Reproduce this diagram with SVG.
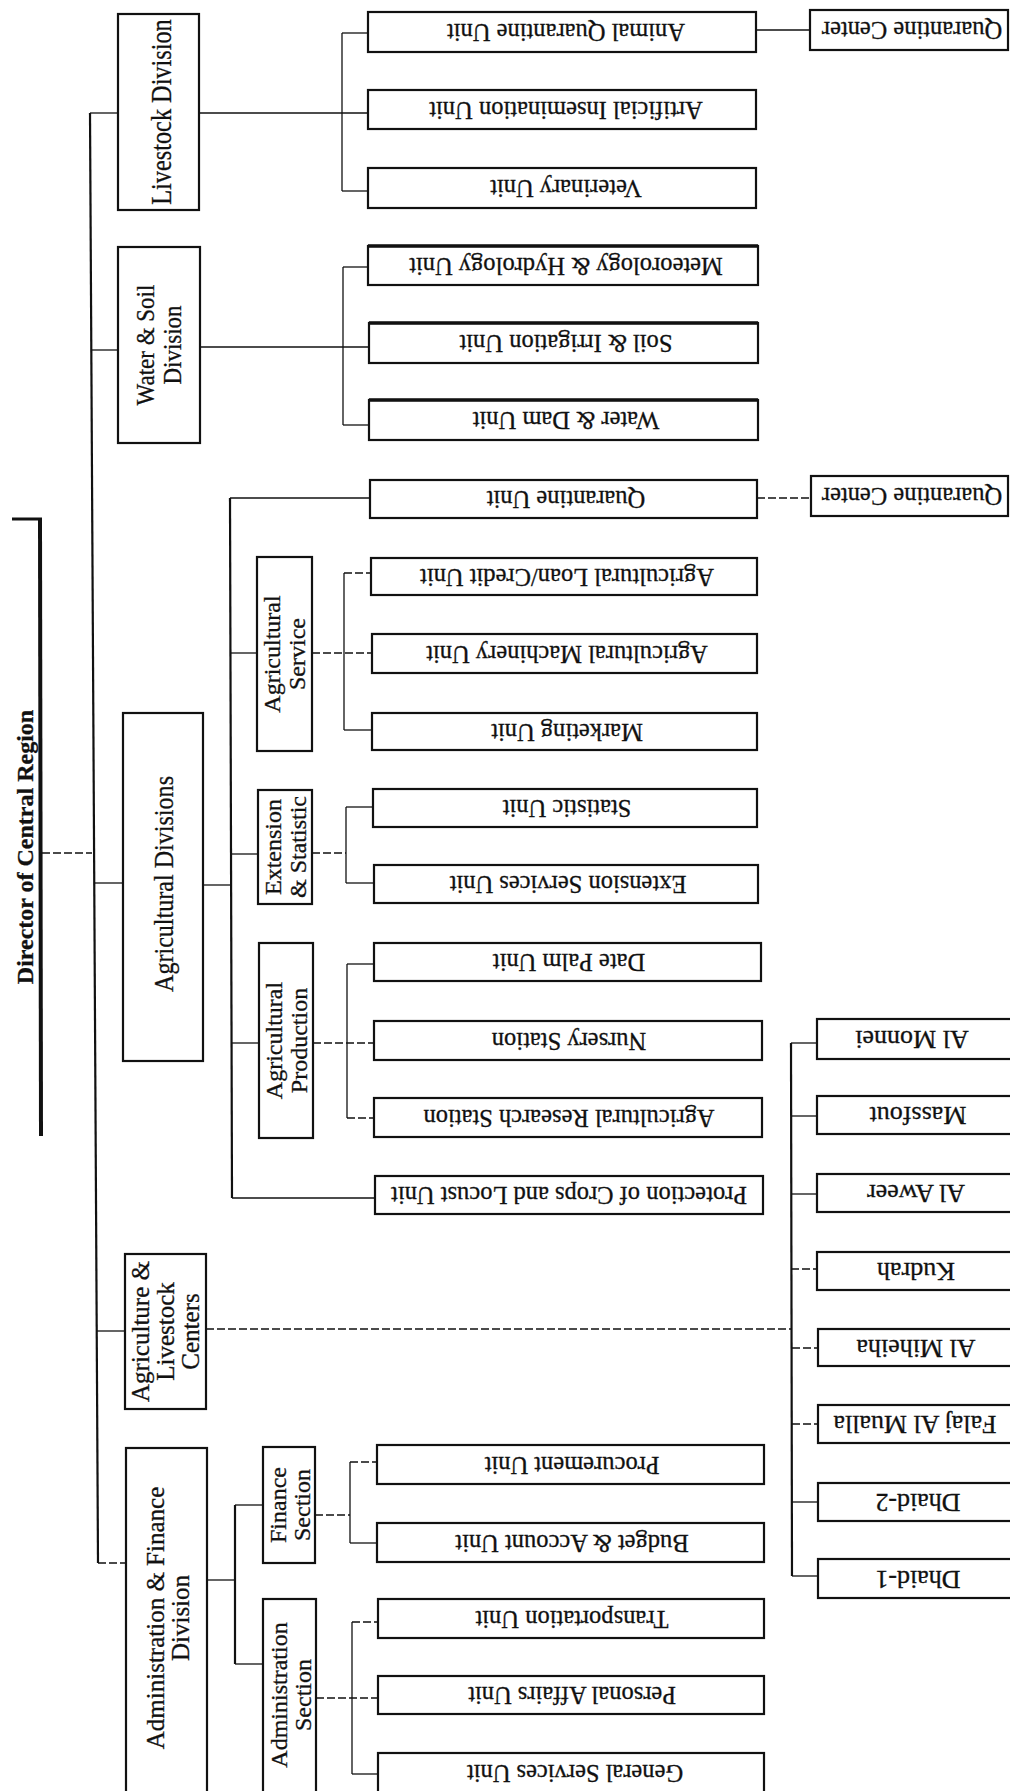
<svg xmlns="http://www.w3.org/2000/svg" width="1010" height="1791" viewBox="0 0 1010 1791">
<style>
.bx{fill:#fff;stroke:#111;stroke-width:2.2}
.ln{stroke:#111;stroke-width:1.3;fill:none}
.tk{stroke-width:2.2}
.ds{stroke-dasharray:8 3}
text{font-family:"Liberation Serif","Times New Roman",serif;fill:#111;stroke:#111;stroke-width:0.3;text-anchor:middle}
.u{font-size:24.5px}
.c{font-size:26px}
.d{font-size:25px}
.s{font-size:24px}
.d30{font-size:30px}
.d28{font-size:28px}
</style>
<rect width="1010" height="1791" fill="#fff"/>
<g id="connectors">
<line class="ln tk" x1="90" y1="113" x2="98" y2="1563"/>
<line class="ln ds" x1="42" y1="853" x2="92" y2="853"/>
<line class="ln" x1="90" y1="113" x2="118" y2="113"/>
<line class="ln" x1="91" y1="350" x2="118" y2="350"/>
<line class="ln" x1="94" y1="883" x2="123" y2="883"/>
<line class="ln" x1="97" y1="1331" x2="125" y2="1331"/>
<line class="ln ds" x1="98" y1="1563" x2="126" y2="1563"/>
<line class="ln" x1="199" y1="113" x2="368" y2="113"/>
<line class="ln" x1="342" y1="33" x2="342" y2="191"/>
<line class="ln" x1="342" y1="33" x2="368" y2="33"/>
<line class="ln" x1="342" y1="191" x2="368" y2="191"/>
<line class="ln" x1="200" y1="347" x2="369" y2="347"/>
<line class="ln" x1="343" y1="267" x2="343" y2="425"/>
<line class="ln" x1="343" y1="267" x2="368" y2="267"/>
<line class="ln" x1="343" y1="425" x2="369" y2="425"/>
<line class="ln" x1="203" y1="885" x2="230" y2="885"/>
<line class="ln tk" x1="230" y1="498" x2="232" y2="1198"/>
<line class="ln" x1="230" y1="498" x2="370" y2="498"/>
<line class="ln" x1="230" y1="653" x2="257" y2="653"/>
<line class="ln ds" x1="312" y1="653" x2="372" y2="653"/>
<line class="ln" x1="344" y1="573" x2="344" y2="730"/>
<line class="ln ds" x1="344" y1="573" x2="371" y2="573"/>
<line class="ln" x1="344" y1="730" x2="372" y2="730"/>
<line class="ln" x1="231" y1="854" x2="258" y2="854"/>
<line class="ln ds" x1="312" y1="853" x2="346" y2="853"/>
<line class="ln" x1="346" y1="807" x2="346" y2="883"/>
<line class="ln" x1="346" y1="807" x2="373" y2="807"/>
<line class="ln" x1="346" y1="883" x2="374" y2="883"/>
<line class="ln" x1="231" y1="1043" x2="259" y2="1043"/>
<line class="ln ds" x1="313" y1="1043" x2="374" y2="1043"/>
<line class="ln" x1="347" y1="964" x2="347" y2="1118"/>
<line class="ln" x1="347" y1="964" x2="374" y2="964"/>
<line class="ln ds" x1="347" y1="1118" x2="374" y2="1118"/>
<line class="ln" x1="232" y1="1198" x2="375" y2="1198"/>
<line class="ln" x1="756" y1="30" x2="810" y2="30"/>
<line class="ln ds" x1="757" y1="498" x2="811" y2="498"/>
<line class="ln ds" x1="206" y1="1329" x2="791" y2="1329"/>
<line class="ln tk" x1="791" y1="1043" x2="792" y2="1576"/>
<line class="ln" x1="791" y1="1043" x2="817" y2="1043"/>
<line class="ln" x1="791" y1="1116" x2="817" y2="1116"/>
<line class="ln" x1="791" y1="1194" x2="817" y2="1194"/>
<line class="ln ds" x1="791" y1="1269" x2="817" y2="1269"/>
<line class="ln ds" x1="792" y1="1348" x2="818" y2="1348"/>
<line class="ln ds" x1="792" y1="1424" x2="818" y2="1424"/>
<line class="ln" x1="792" y1="1502" x2="818" y2="1502"/>
<line class="ln" x1="792" y1="1576" x2="818" y2="1576"/>
<line class="ln" x1="207" y1="1580" x2="235" y2="1580"/>
<line class="ln tk" x1="235" y1="1505" x2="235" y2="1664"/>
<line class="ln" x1="235" y1="1505" x2="263" y2="1505"/>
<line class="ln" x1="235" y1="1664" x2="263" y2="1664"/>
<line class="ln ds" x1="315" y1="1515" x2="350" y2="1515"/>
<line class="ln" x1="350" y1="1462" x2="350" y2="1543"/>
<line class="ln ds" x1="350" y1="1462" x2="377" y2="1462"/>
<line class="ln" x1="350" y1="1543" x2="377" y2="1543"/>
<line class="ln ds" x1="316" y1="1698" x2="378" y2="1698"/>
<line class="ln" x1="352" y1="1622" x2="352" y2="1774"/>
<line class="ln ds" x1="352" y1="1622" x2="378" y2="1622"/>
<line class="ln" x1="352" y1="1774" x2="378" y2="1774"/>
</g>
<g id="director">
<line x1="12" y1="519" x2="42" y2="519" stroke="#111" stroke-width="3"/>
<line x1="40" y1="519" x2="41" y2="1136" stroke="#111" stroke-width="4"/>
<text transform="translate(33 847) rotate(-90)" style="font-size:24px;font-weight:bold">Director of Central Region</text>
</g>
<g id="livestock-division"><rect class="bx" x="118" y="14" width="81" height="196"/>
<text class="d30" transform="translate(160 112) rotate(-90) scale(0.81 1)" y="11">Livestock Division</text></g>
<g id="water-soil-division"><rect class="bx" x="118" y="247" width="82" height="196"/>
<text class="d" transform="translate(159 345) rotate(-90) scale(0.92 1)"><tspan x="0" y="-5">Water &amp; Soil</tspan><tspan x="0" y="22">Division</tspan></text></g>
<g id="agricultural-divisions"><rect class="bx" x="123" y="713" width="80" height="348"/>
<text class="d28" transform="translate(163 884) rotate(-90) scale(0.86 1)" y="10">Agricultural Divisions</text></g>
<g id="agricultural-service"><rect class="bx" x="257" y="557" width="55" height="194"/>
<text class="s" transform="translate(284.5 654) rotate(-90)"><tspan x="0" y="-4.5">Agricultural</tspan><tspan x="0" y="20.5">Service</tspan></text></g>
<g id="extension-statistic"><rect class="bx" x="258" y="790" width="54" height="114"/>
<text class="s" transform="translate(285 847) rotate(-90)"><tspan x="0" y="-4.5">Extension</tspan><tspan x="0" y="20.5">&amp; Statistic</tspan></text></g>
<g id="agricultural-production"><rect class="bx" x="259" y="943" width="54" height="195"/>
<text class="s" transform="translate(286 1040.5) rotate(-90)"><tspan x="0" y="-4.5">Agricultural</tspan><tspan x="0" y="20.5">Production</tspan></text></g>
<g id="centers-division"><rect class="bx" x="125" y="1254" width="81" height="155"/>
<text class="d" transform="translate(165.5 1331.5) rotate(-90)"><tspan x="0" y="-16.75">Agriculture &amp;</tspan><tspan x="0" y="8.25">Livestock</tspan><tspan x="0" y="33.25">Centers</tspan></text></g>
<g id="admin-finance-division"><rect class="bx" x="126" y="1448" width="81" height="360"/>
<text class="d" transform="translate(166.5 1618) rotate(-90)"><tspan x="0" y="-3">Administration &amp; Finance</tspan><tspan x="0" y="22">Division</tspan></text></g>
<g id="finance-section"><rect class="bx" x="263" y="1447" width="52" height="116"/>
<text class="s" transform="translate(289 1505) rotate(-90)"><tspan x="0" y="-3">Finance</tspan><tspan x="0" y="21">Section</tspan></text></g>
<g id="administration-section"><rect class="bx" x="263" y="1599" width="53" height="210"/>
<text class="s" transform="translate(289.5 1695) rotate(-90)"><tspan x="0" y="-3">Administration</tspan><tspan x="0" y="21">Section</tspan></text></g>

<g id="animal-quarantine-unit"><rect class="bx" x="368" y="12" width="388" height="40"/><text class="u" transform="translate(566 32) rotate(180)" y="8">Animal Quarantine Unit</text></g>
<g id="artificial-insemination-unit"><rect class="bx" x="368" y="90" width="388" height="39"/><text class="u" transform="translate(566 109.5) rotate(180)" y="8">Artificial Insemination Unit</text></g>
<g id="veterinary-unit"><rect class="bx" x="368" y="168" width="388" height="40"/><text class="u" transform="translate(566 188) rotate(180)" y="8">Veterinary  Unit</text></g>
<g id="meteorology-unit"><rect class="bx" x="368" y="246" width="390" height="39"/><line x1="368" y1="246" x2="758" y2="246" stroke="#111" stroke-width="3.5"/><text class="u" transform="translate(566 265.5) rotate(180)" y="8">Meteorology &amp; Hydrology Unit</text></g>
<g id="soil-irrigation-unit"><rect class="bx" x="369" y="323" width="389" height="40"/><line x1="369" y1="323" x2="758" y2="323" stroke="#111" stroke-width="3.5"/><text class="u" transform="translate(566 343) rotate(180)" y="8">Soil &amp; Irrigation Unit</text></g>
<g id="water-dam-unit"><rect class="bx" x="369" y="400" width="389" height="40"/><line x1="369" y1="400" x2="758" y2="400" stroke="#111" stroke-width="3.5"/><text class="u" transform="translate(566 420) rotate(180)" y="8">Water &amp; Dam Unit</text></g>
<g id="quarantine-unit"><rect class="bx" x="370" y="480" width="387" height="38"/><text class="u" transform="translate(566 499) rotate(180)" y="8">Quarantine  Unit</text></g>
<g id="loan-credit-unit"><rect class="bx" x="371" y="558" width="386" height="37"/><text class="u" transform="translate(567 576.5) rotate(180)" y="8">Agricultural Loan/Credit  Unit</text></g>
<g id="machinery-unit"><rect class="bx" x="372" y="634" width="385" height="39"/><text class="u" transform="translate(567 653.5) rotate(180)" y="8">Agricultural Machinery Unit</text></g>
<g id="marketing-unit"><rect class="bx" x="372" y="713" width="385" height="37"/><text class="u" transform="translate(567 731.5) rotate(180)" y="8">Marketing Unit</text></g>
<g id="statistic-unit"><rect class="bx" x="373" y="789" width="384" height="38"/><text class="u" transform="translate(567 808) rotate(180)" y="8">Statistic Unit</text></g>
<g id="extension-services-unit"><rect class="bx" x="374" y="865" width="384" height="38"/><text class="u" transform="translate(568 884) rotate(180)" y="8">Extension Services Unit</text></g>
<g id="date-palm-unit"><rect class="bx" x="374" y="943" width="387" height="38"/><text class="u" transform="translate(569 962) rotate(180)" y="8">Date Palm  Unit</text></g>
<g id="nursery-station"><rect class="bx" x="374" y="1021" width="388" height="39"/><text class="u" transform="translate(569 1040.5) rotate(180)" y="8">Nursery Station</text></g>
<g id="research-station"><rect class="bx" x="374" y="1098" width="388" height="39"/><text class="u" transform="translate(569 1117.5) rotate(180)" y="8">Agricultural Research Station</text></g>
<g id="protection-unit"><rect class="bx" x="375" y="1176" width="388" height="38"/><text class="u" transform="translate(569 1195) rotate(180)" y="8">Protection of Crops and Locust Unit</text></g>
<g id="procurement-unit"><rect class="bx" x="377" y="1445" width="387" height="39"/><text class="u" transform="translate(572 1464.5) rotate(180)" y="8">Procurement  Unit</text></g>
<g id="budget-account-unit"><rect class="bx" x="377" y="1523" width="387" height="39"/><text class="u" transform="translate(572 1542.5) rotate(180)" y="8">Budget &amp; Account  Unit</text></g>
<g id="transportation-unit"><rect class="bx" x="378" y="1599" width="386" height="39"/><text class="u" transform="translate(572 1618.5) rotate(180)" y="8">Transportation  Unit</text></g>
<g id="personal-affairs-unit"><rect class="bx" x="378" y="1676" width="386" height="38"/><text class="u" transform="translate(572 1695) rotate(180)" y="8">Personal Affairs Unit</text></g>
<g id="general-services-unit"><rect class="bx" x="378" y="1753" width="386" height="40"/><text class="u" transform="translate(575 1773) rotate(180)" y="8">General Services  Unit</text></g>

<g id="quarantine-center-1"><rect class="bx" x="810" y="10" width="198" height="40"/><text class="u" transform="translate(912 30) rotate(180)" y="8">Quarantine Center</text></g>
<g id="quarantine-center-2"><rect class="bx" x="811" y="476" width="197" height="40"/><text class="u" transform="translate(912 496) rotate(180)" y="8">Quarantine Center</text></g>

<g id="al-monnei"><rect class="bx" x="817" y="1019" width="220" height="40"/><text class="c" transform="translate(912 1039) rotate(180)" y="8">Al Monnei</text></g>
<g id="massfout"><rect class="bx" x="817" y="1096" width="220" height="38"/><text class="c" transform="translate(918 1115) rotate(180)" y="8">Massfout</text></g>
<g id="al-aweer"><rect class="bx" x="817" y="1174" width="220" height="38"/><text class="c" transform="translate(916 1193) rotate(180)" y="8">Al Aweer</text></g>
<g id="kudrah"><rect class="bx" x="817" y="1252" width="220" height="38"/><text class="c" transform="translate(916 1271) rotate(180)" y="8">Kudrah</text></g>
<g id="al-miheiha"><rect class="bx" x="818" y="1329" width="220" height="37"/><text class="c" transform="translate(916 1347.5) rotate(180)" y="8">Al Miheiha</text></g>
<g id="falaj-al-mualla"><rect class="bx" x="818" y="1405" width="220" height="38"/><text class="c" transform="translate(915 1424) rotate(180)" y="8">Falaj Al Mualla</text></g>
<g id="dhaid-2"><rect class="bx" x="818" y="1483" width="220" height="38"/><text class="c" transform="translate(918 1502) rotate(180)" y="8">Dhaid-2</text></g>
<g id="dhaid-1"><rect class="bx" x="818" y="1559" width="220" height="39"/><text class="c" transform="translate(918 1578.5) rotate(180)" y="8">Dhaid-1</text></g>
</svg>
